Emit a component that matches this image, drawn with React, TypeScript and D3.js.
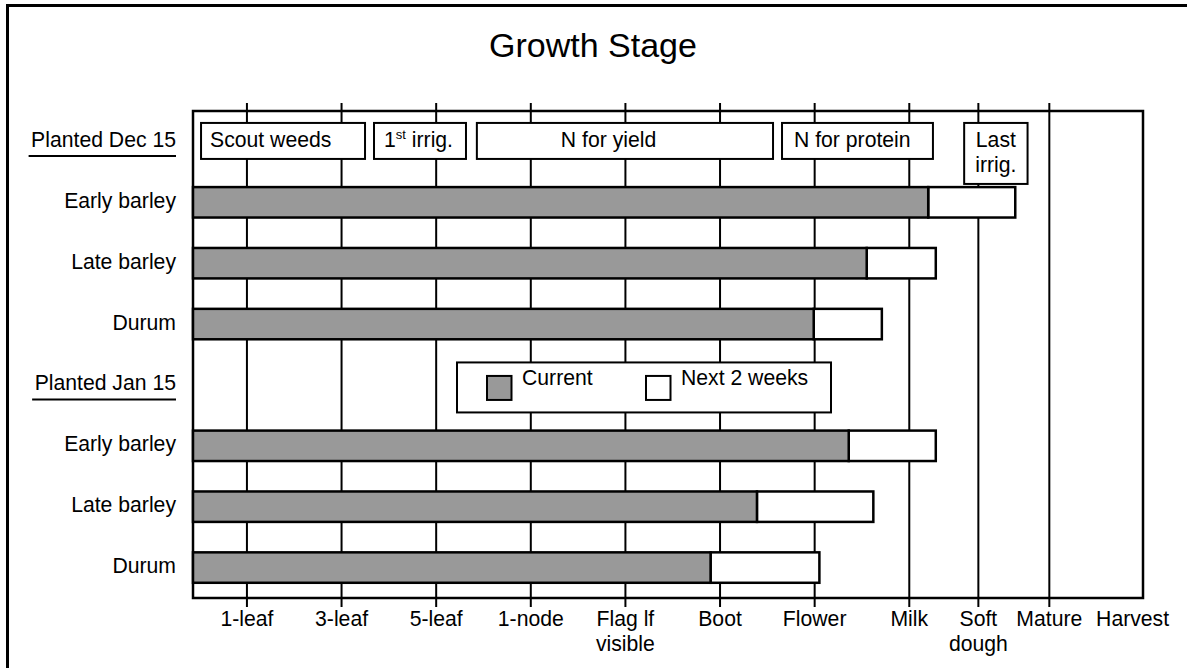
import React, { useEffect, useRef } from 'react';
import * as d3 from 'd3';

// ---------- data ----------
const chartTitle = 'Growth Stage';

const stageNames = ['1-leaf', '3-leaf', '5-leaf', '1-node', 'Flag lf\nvisible', 'Boot', 'Flower', 'Milk', 'Soft\ndough', 'Mature', 'Harvest'];
const stageValues = [1, 2, 3, 4, 5, 6, 7, 8, 8.73, 9.48, 10.36];
const gridStages = [1, 2, 3, 4, 5, 6, 7, 8, 8.73, 9.48];
const stageDomain = [0.43, 10.47];

const rowIds = ['dec', 'dec-early', 'dec-late', 'dec-durum', 'jan', 'jan-early', 'jan-late', 'jan-durum'];
const rowLabels = ['Planted Dec 15', 'Early barley', 'Late barley', 'Durum', 'Planted Jan 15', 'Early barley', 'Late barley', 'Durum'];
const headerRows = ['dec', 'jan'];

const barRows = ['dec-early', 'dec-late', 'dec-durum', 'jan-early', 'jan-late', 'jan-durum'];
const currentStage = [8.2, 7.55, 6.99, 7.36, 6.39, 5.9];
const nextStage = [9.12, 8.28, 7.71, 8.28, 7.62, 7.05];

const taskLabels = ['Scout weeds', '1st irrig.', 'N for yield', 'N for protein', 'Last\nirrig.'];
const taskStart = [0.515, 2.343, 3.43, 6.655, 8.58];
const taskEnd = [2.248, 3.315, 6.56, 8.25, 9.25];

const legendLabels = ['Current', 'Next 2 weeks'];

// ---------- style ----------
const FONT = "'Liberation Sans', Arial, Helvetica, sans-serif";
const FS = 21.2;
const GRAY = '#999999';
const W = 1187;
const H = 668;
const plot = { left: 193, right: 1143, top: 111, bottom: 598 };
const taskTextOffset = [9, 10, 84, 12, -1]; // -1 => centered

export default function App() {
  const ref = useRef<SVGSVGElement | null>(null);

  useEffect(() => {
    const svg = d3.select(ref.current);
    svg.selectAll('*').remove();

    const x = d3.scaleLinear().domain(stageDomain).range([plot.left, plot.right]);
    const y = d3.scaleBand().domain(rowIds).range([plot.top, plot.bottom]).paddingInner(0.5).paddingOuter(0.25);
    const bw = y.bandwidth();
    const cy = (id: string) => (y(id) as number) + bw / 2;

    // outer frame
    svg.append('rect').attr('x', 7.5).attr('y', 5.5).attr('width', 1300).attr('height', 800)
      .attr('fill', 'white').attr('stroke', 'black').attr('stroke-width', 3);

    // title
    svg.append('text').attr('x', 593).attr('y', 57).attr('text-anchor', 'middle')
      .attr('font-family', FONT).attr('font-size', 34).attr('fill', 'black').text(chartTitle);

    // gridlines with ticks beyond frame
    svg.append('g').selectAll('line').data(gridStages).join('line')
      .attr('x1', (d) => x(d)).attr('x2', (d) => x(d))
      .attr('y1', plot.top - 8).attr('y2', plot.bottom + 9)
      .attr('stroke', 'black').attr('stroke-width', 2);

    // plot frame
    svg.append('rect').attr('x', plot.left).attr('y', plot.top)
      .attr('width', plot.right - plot.left).attr('height', plot.bottom - plot.top)
      .attr('fill', 'none').attr('stroke', 'black').attr('stroke-width', 2.5);

    // bottom labels
    const tl = svg.append('g').attr('font-family', FONT).attr('font-size', FS).attr('fill', 'black');
    stageNames.forEach((name, i) => {
      const t = tl.append('text').attr('text-anchor', 'middle');
      name.split('\n').forEach((line, j) => {
        t.append('tspan').attr('x', x(stageValues[i])).attr('y', 626 + j * 25).text(line);
      });
    });

    // row labels
    const rl = svg.append('g').attr('font-family', FONT).attr('font-size', FS).attr('fill', 'black');
    rowIds.forEach((id, i) => {
      const t = rl.append('text').attr('x', 176).attr('y', cy(id) + 5.5).attr('text-anchor', 'end').text(rowLabels[i]);
      if (headerRows.includes(id)) {
        const len = (t.node() as SVGTextElement).getComputedTextLength();
        rl.append('line').attr('x1', 176 - len - 2.5).attr('x2', 176)
          .attr('y1', cy(id) + 14.5).attr('y2', cy(id) + 14.5)
          .attr('stroke', 'black').attr('stroke-width', 2);
      }
    });

    // bars
    const bars = svg.append('g');
    barRows.forEach((id, i) => {
      bars.append('rect').attr('x', x(currentStage[i])).attr('y', y(id) as number)
        .attr('width', x(nextStage[i]) - x(currentStage[i])).attr('height', bw)
        .attr('fill', 'white').attr('stroke', 'black').attr('stroke-width', 2.5);
      bars.append('rect').attr('x', plot.left).attr('y', y(id) as number)
        .attr('width', x(currentStage[i]) - plot.left).attr('height', bw)
        .attr('fill', GRAY).attr('stroke', 'black').attr('stroke-width', 2.5);
    });

    // task boxes
    const tb = svg.append('g').attr('font-family', FONT).attr('font-size', FS).attr('fill', 'black');
    const rowC = cy('dec');
    taskLabels.forEach((lab, i) => {
      const lines = lab.split('\n');
      const x0 = x(taskStart[i]);
      const x1 = x(taskEnd[i]);
      const top = rowC - 18.5;
      const h = lines.length > 1 ? 61 : 36;
      tb.append('rect').attr('x', x0).attr('y', top).attr('width', x1 - x0).attr('height', h)
        .attr('fill', 'white').attr('stroke', 'black').attr('stroke-width', 2);
      const off = taskTextOffset[i];
      const t = tb.append('text')
        .attr('text-anchor', off < 0 ? 'middle' : 'start');
      const tx = off < 0 ? (x0 + x1) / 2 : x0 + off;
      if (lab.startsWith('1st')) {
        t.attr('x', tx).attr('y', rowC + 6);
        t.append('tspan').text('1');
        t.append('tspan').attr('font-size', 13).attr('dy', -8).text('st');
        t.append('tspan').attr('dy', 8).text(' irrig.');
      } else {
        lines.forEach((line, j) => {
          t.append('tspan').attr('x', tx).attr('y', rowC + 6 + j * 25).text(line);
        });
      }
    });

    // legend
    const lg = svg.append('g').attr('font-family', FONT).attr('font-size', FS).attr('fill', 'black');
    const jc = cy('jan');
    lg.append('rect').attr('x', 457).attr('y', jc - 22.5).attr('width', 374).attr('height', 50)
      .attr('fill', 'white').attr('stroke', 'black').attr('stroke-width', 2);
    const swX = [487, 646];
    legendLabels.forEach((lab, i) => {
      lg.append('rect').attr('x', swX[i]).attr('y', jc - 9).attr('width', 24.5).attr('height', 24)
        .attr('fill', i === 0 ? GRAY : 'white').attr('stroke', 'black').attr('stroke-width', 2);
      lg.append('text').attr('x', swX[i] + 35).attr('y', jc).text(lab);
    });
  }, []);

  return (
    <svg ref={ref} width={W} height={H} style={{ position: 'absolute', left: 0, top: 0, background: 'white' }} />
  );
}
